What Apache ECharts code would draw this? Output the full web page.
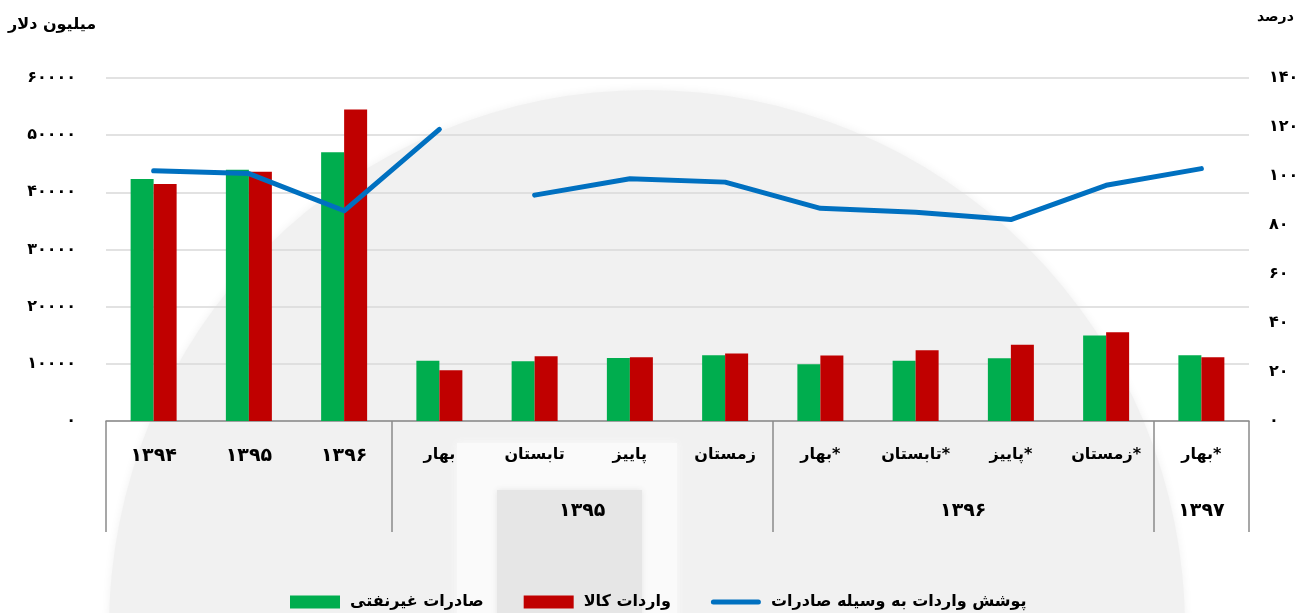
<!DOCTYPE html>
<html>
<head>
<meta charset="utf-8">
<script src="https://cdn.jsdelivr.net/npm/echarts@6/dist/echarts.min.js"></script>
<style>
  html, body { margin: 0; padding: 0; background: #ffffff; }
  #chart { width: 1309px; height: 613px; }
</style>
</head>
<body>
<div id="chart"></div>
<script>
// Quarterly and annual foreign trade of goods (million USD) and import coverage (%)
const categories = ['1394', '1395', '1396', 'بهار', 'تابستان', 'پاییز', 'زمستان', 'بهار*', 'تابستان*', 'پاییز*', 'زمستان*', 'بهار*'];
const groups = [
  { name: '', from: 0, to: 2 },
  { name: '1395', from: 3, to: 6 },
  { name: '1396', from: 7, to: 10 },
  { name: '1397', from: 11, to: 11 }
];
const nonOilExports = [42330, 43960, 46990, 10560, 10450, 11030, 11500, 9930, 10560, 10980, 14940, 11500];
const goodsImports = [41450, 43610, 54470, 8880, 11330, 11150, 11790, 11440, 12380, 13360, 15530, 11150];
const coverage = [102.1, 101.0, 85.8, 119.0, 92.2, 98.9, 97.5, 86.8, 85.2, 82.2, 96.2, 103.0];
const coverageBreakAt = 4; // the coverage line is not joined across this index
const leftTicks = { min: 0, max: 60000, step: 10000 };
const rightTicks = { min: 0, max: 140, step: 20 };

const seriesNames = ['صادرات غیرنفتی', 'واردات کالا', 'پوشش واردات به وسیله صادرات'];
const FONT = 'DejaVu Sans';
const faDigits = s => String(s).replace(/\d/g, d => '۰۱۲۳۴۵۶۷۸۹'[d]);
// year labels are set a little larger than the season names
const catLabel = s => /^\d+$/.test(s) ? '{num|' + faDigits(s) + '}' : s;

const chart = echarts.init(document.getElementById('chart'), null, { renderer: 'canvas' });

const groupStarts = groups.map(g => g.from);
const labelStyle = { color: '#000', fontFamily: FONT, fontWeight: 'bold', fontSize: 16 };
const numRich = { num: { color: '#000', fontFamily: FONT, fontWeight: 'bold', fontSize: 19 } };
const lineIcon = 'path://M2.5,0 L47.5,0 A2.5,2.5 0 0 1 47.5,5 L2.5,5 A2.5,2.5 0 0 1 2.5,0 Z';

chart.setOption({
  animation: false,
  backgroundColor: '#ffffff',
  grid: { left: 106, right: 60, top: 78, bottom: 192, containLabel: false },
  graphic: [
    // faint background emblem
    { type: 'circle', z: -10, silent: true,
      shape: { cx: 647, cy: 628, r: 538 },
      style: { fill: '#f1f1f1', shadowColor: '#f1f1f1', shadowBlur: 10 } },
    { type: 'rect', z: -9, silent: true,
      shape: { x: 457, y: 443, width: 220, height: 180 },
      style: { fill: '#fafafa', shadowColor: '#fafafa', shadowBlur: 8 } },
    { type: 'rect', z: -8, silent: true,
      shape: { x: 497, y: 490, width: 145, height: 130 },
      style: { fill: '#e6e6e6', shadowColor: '#e6e6e6', shadowBlur: 6 } },
    // axis titles
    { type: 'text', left: 8, top: 17, silent: true,
      style: { text: 'میلیون دلار', fill: '#000', font: 'bold 16px "DejaVu Sans"' } },
    { type: 'text', left: 1257, top: 10, silent: true,
      style: { text: 'درصد', fill: '#000', font: 'bold 14px "DejaVu Sans"' } }
  ],
  legend: {
    left: 285, top: 589, itemGap: 40, itemWidth: 50, itemHeight: 13,
    data: [
      { name: seriesNames[0], icon: 'rect' },
      { name: seriesNames[1], icon: 'rect' },
      { name: seriesNames[2], icon: lineIcon }
    ],
    textStyle: { color: '#000', fontFamily: FONT, fontWeight: 'bold', fontSize: 16, padding: [0, 0, 0, 5] }
  },
  xAxis: [
    {
      type: 'category',
      data: categories,
      boundaryGap: true,
      axisLine: { show: true, lineStyle: { color: '#8a8a8a', width: 1.5 } },
      axisTick: {
        show: true, length: 111,
        interval: i => groupStarts.includes(i),
        lineStyle: { color: '#8a8a8a', width: 1.5 }
      },
      axisLabel: Object.assign({ interval: 0, margin: 26, formatter: catLabel, rich: numRich }, labelStyle),
      splitLine: { show: false }
    },
    {
      type: 'value',
      position: 'bottom',
      min: -0.5, max: categories.length - 0.5, interval: 0.5,
      axisLine: { show: false }, axisTick: { show: false }, splitLine: { show: false },
      axisLabel: Object.assign({
        margin: 81, showMinLabel: true, showMaxLabel: true, rich: numRich,
        formatter: v => {
          const g = groups.find(g => g.name && Math.abs((g.from + g.to) / 2 - v) < 1e-6);
          return g ? '{num|' + faDigits(g.name) + '}' : '';
        }
      }, labelStyle)
    }
  ],
  yAxis: [
    {
      type: 'value', position: 'left',
      min: leftTicks.min, max: leftTicks.max, interval: leftTicks.step,
      axisLine: { show: false }, axisTick: { show: false },
      splitLine: { show: true, lineStyle: { color: '#d9d9d9', width: 1.5 } },
      axisLabel: Object.assign({ margin: 30, formatter: v => faDigits(v) }, labelStyle)
    },
    {
      type: 'value', position: 'right',
      min: rightTicks.min, max: rightTicks.max, interval: rightTicks.step,
      axisLine: { show: false }, axisTick: { show: false },
      splitLine: { show: false },
      axisLabel: Object.assign({ margin: 20, formatter: v => faDigits(v) }, labelStyle)
    }
  ],
  series: [
    {
      name: seriesNames[0], type: 'bar', xAxisIndex: 0, yAxisIndex: 0,
      data: nonOilExports, barWidth: 23, barGap: '0%',
      itemStyle: { color: '#00ad4e' }
    },
    {
      name: seriesNames[1], type: 'bar', xAxisIndex: 0, yAxisIndex: 0,
      data: goodsImports, barWidth: 23, barGap: '0%',
      itemStyle: { color: '#c00000' }
    },
    {
      name: seriesNames[2], type: 'line', xAxisIndex: 0, yAxisIndex: 1, z: 5,
      data: coverage.map((v, i) => (i < coverageBreakAt ? v : null)),
      symbol: 'none', connectNulls: false,
      lineStyle: { color: '#0070c0', width: 5, cap: 'round', join: 'round' },
      itemStyle: { color: '#0070c0' }
    },
    {
      name: seriesNames[2], type: 'line', xAxisIndex: 0, yAxisIndex: 1, z: 5,
      data: coverage.map((v, i) => (i >= coverageBreakAt ? v : null)),
      symbol: 'none', connectNulls: false,
      lineStyle: { color: '#0070c0', width: 5, cap: 'round', join: 'round' },
      itemStyle: { color: '#0070c0' }
    }
  ]
});
</script>
</body>
</html>
